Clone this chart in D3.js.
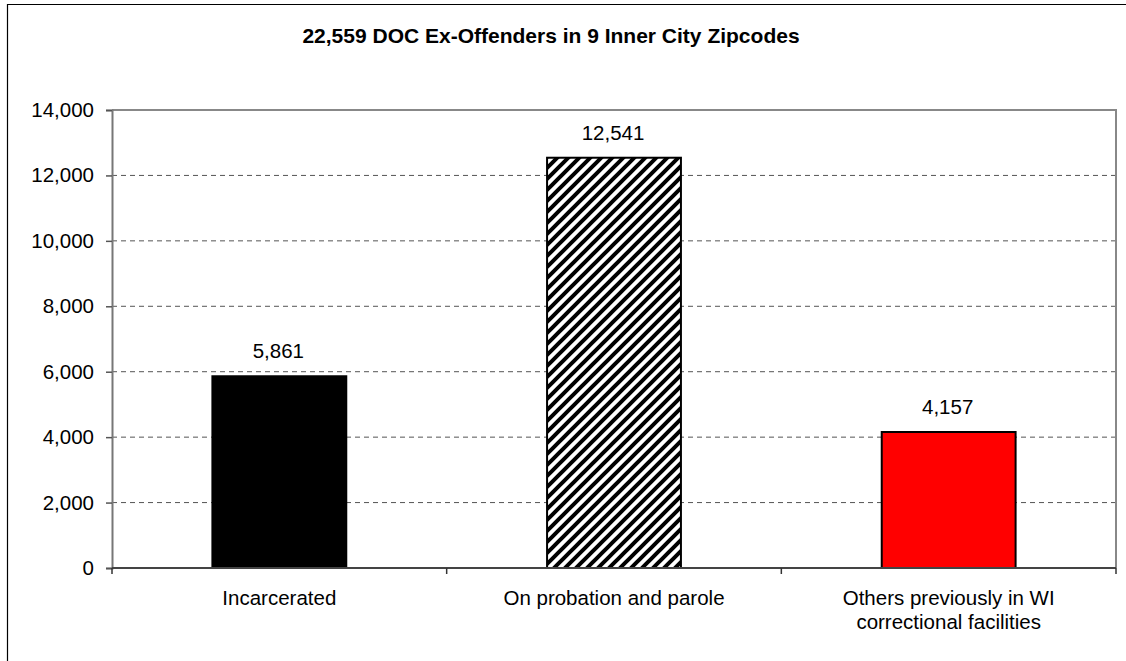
<!DOCTYPE html>
<html>
<head>
<meta charset="utf-8">
<script src="https://cdn.jsdelivr.net/npm/d3@7"></script>
<style>
  html, body { margin: 0; padding: 0; background: #fff; overflow: hidden; }
  svg { display: block; font-family: 'Liberation Sans', Arial, sans-serif; }
</style>
</head>
<body>
<div id="chart"></div>
<script>
const title = '22,559 DOC Ex-Offenders in 9 Inner City Zipcodes';
const categories = ['Incarcerated', 'On probation and parole', 'Others previously in WI correctional facilities'];
const values = [5861, 12541, 4157];
const fills = ['#000000', 'url(#hatch)', '#ff0000'];
const yTicks = [0, 2000, 4000, 6000, 8000, 10000, 12000, 14000];

const width = 1126;
const height = 661;
const plot = { left: 112, right: 1116, top: 110, bottom: 568 };

const svg = d3.select('#chart')
  .append('svg')
  .attr('width', width)
  .attr('height', height);

// wide upward diagonal hatch
const pat = svg.append('defs')
  .append('pattern')
  .attr('id', 'hatch')
  .attr('patternUnits', 'userSpaceOnUse')
  .attr('width', 11)
  .attr('height', 11);
pat.append('rect').attr('width', 11).attr('height', 11).attr('fill', '#fff');
pat.append('path')
  .attr('d', 'M-3,3 L3,-3 M0,11 L11,0 M8,14 L14,8')
  .attr('stroke', '#000')
  .attr('stroke-width', 4);

// outer frame: only its top and left edges fall inside the picture
svg.append('path')
  .attr('d', `M7.5,${height}V4.5H${width}`)
  .attr('fill', 'none')
  .attr('stroke', '#000')
  .attr('stroke-width', 1.2);

const x = d3.scaleBand()
  .domain(categories)
  .range([plot.left, plot.right])
  .paddingInner(0.6)
  .paddingOuter(0.3);

const y = d3.scaleLinear()
  .domain([0, 14000])
  .range([plot.bottom, plot.top]);

const fmt = d3.format(',');

// gridlines
svg.append('g')
  .selectAll('line')
  .data(yTicks.filter(d => d > 0 && d < 14000))
  .join('line')
  .attr('x1', plot.left).attr('x2', plot.right)
  .attr('y1', d => y(d)).attr('y2', d => y(d))
  .attr('stroke', '#555')
  .attr('stroke-width', 1)
  .attr('stroke-dasharray', '5,4');

// plot border top + right
svg.append('path')
  .attr('d', `M${plot.left},${plot.top}H${plot.right}V${plot.bottom}`)
  .attr('fill', 'none')
  .attr('stroke', '#888')
  .attr('stroke-width', 2);

// y axis
const yAxis = d3.axisLeft(y)
  .tickValues(yTicks)
  .tickSize(6)
  .tickPadding(12)
  .tickFormat(fmt);

const gy = svg.append('g')
  .attr('transform', `translate(${plot.left},0)`)
  .call(yAxis);
gy.select('.domain').attr('stroke', '#777').attr('stroke-width', 2);
gy.selectAll('.tick line').attr('stroke', '#555').attr('stroke-width', 1.5);
gy.selectAll('.tick text')
  .attr('font-size', 20.5)
  .attr('fill', '#000')
  .attr('font-family', "'Liberation Sans', Arial, sans-serif");

// bars
svg.append('g')
  .selectAll('rect')
  .data(values)
  .join('rect')
  .attr('x', (d, i) => x(categories[i]))
  .attr('y', d => y(d))
  .attr('width', x.bandwidth())
  .attr('height', d => y(0) - y(d))
  .attr('fill', (d, i) => fills[i])
  .attr('stroke', '#000')
  .attr('stroke-width', 2);

// value labels
svg.append('g')
  .selectAll('text')
  .data(values)
  .join('text')
  .attr('x', (d, i) => x(categories[i]) + x.bandwidth() / 2 - 1)
  .attr('y', d => y(d) - 18)
  .attr('text-anchor', 'middle')
  .attr('font-size', 20.5)
  .text(d => fmt(d));

// x axis line and category boundary ticks
svg.append('line')
  .attr('x1', plot.left).attr('x2', plot.right)
  .attr('y1', plot.bottom).attr('y2', plot.bottom)
  .attr('stroke', '#444')
  .attr('stroke-width', 2);

svg.append('g')
  .selectAll('line')
  .data(d3.range(categories.length + 1))
  .join('line')
  .attr('x1', i => plot.left + i * x.step())
  .attr('x2', i => plot.left + i * x.step())
  .attr('y1', plot.bottom)
  .attr('y2', plot.bottom + 6)
  .attr('stroke', '#333')
  .attr('stroke-width', 1.5);

// category labels, wrapped
const catText = svg.append('g')
  .selectAll('text')
  .data(categories)
  .join('text')
  .attr('text-anchor', 'middle')
  .attr('font-size', 20.5)
  .attr('x', d => x(d) + x.bandwidth() / 2)
  .attr('y', 605);

catText.each(function (d) {
  const t = d3.select(this);
  const words = d.split(' ');
  const lines = [];
  let cur = [];
  const probe = t.append('tspan');
  for (const w of words) {
    probe.text([...cur, w].join(' '));
    if (cur.length && probe.node().getComputedTextLength() > 250) {
      lines.push(cur.join(' '));
      cur = [w];
    } else {
      cur.push(w);
    }
  }
  lines.push(cur.join(' '));
  probe.remove();
  lines.forEach((ln, i) => {
    t.append('tspan')
      .attr('x', t.attr('x'))
      .attr('dy', i === 0 ? 0 : 24)
      .text(ln);
  });
});

// title
svg.append('text')
  .attr('x', 551)
  .attr('y', 43)
  .attr('text-anchor', 'middle')
  .attr('font-size', 21)
  .attr('font-weight', 'bold')
  .text(title);
</script>
</body>
</html>
